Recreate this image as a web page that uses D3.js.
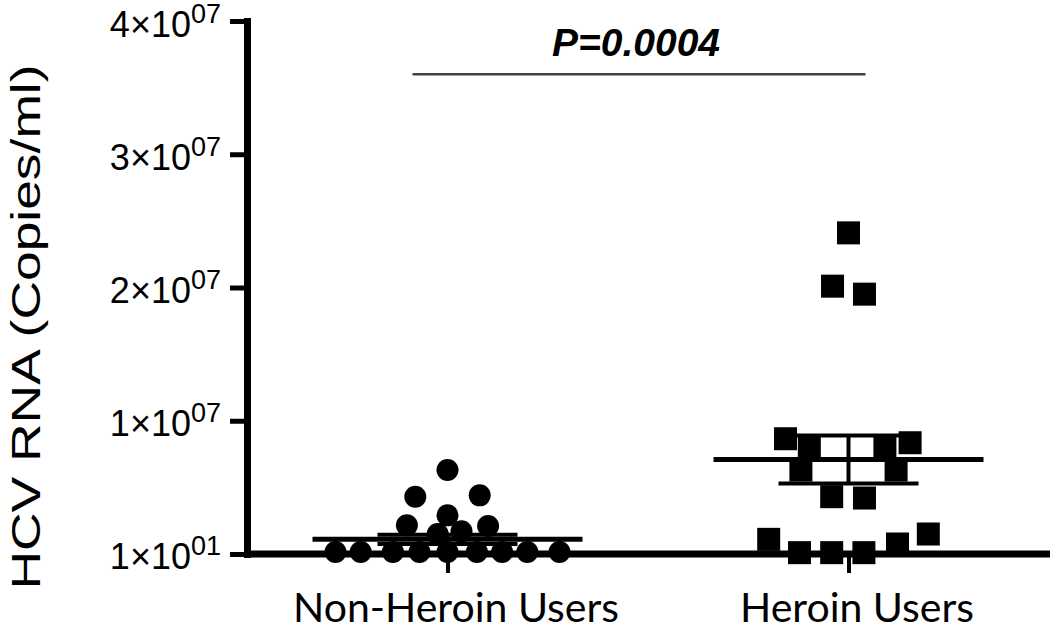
<!DOCTYPE html>
<html>
<head>
<meta charset="utf-8">
<script src="https://cdn.jsdelivr.net/npm/d3@7"></script>
<style>
    body { margin: 0; background: #fff; }
    svg { display: block; }
</style>
</head>
<body>
<div id="plot"></div>
<script>
// data
var groups = ["Non-Heroin Users", "Heroin Users"];

// HCV RNA copies/ml, one entry per subject
var nonHeroinValues = [6.3e6, 4.3e6, 4.4e6, 2.9e6, 2.15e6, 2.1e6, 1.7e6, 1.5e6,
    1.5e5, 1.5e5, 1.5e5, 1.5e5, 1.5e5, 1.5e5, 1.5e5, 1.5e5, 1.5e5];
// scatter lane of each point inside its column (prism style)
var nonHeroinSlots = [0, -1.15, 1.15, 0, -1.45, 1.45, 0.5, -0.35,
    -4, -3.1, -1.95, -1, 0, 1.05, 1.95, 2.85, 4];

var heroinValues = [2.41e7, 2.01e7, 1.95e7, 8.65e6, 8.35e6, 8.05e6, 8.05e6, 6.3e6, 6.3e6,
    4.3e6, 4.2e6, 1.1e6, 1.0e5, 1.0e5, 1.0e5, 7.5e5, 1.5e6];
var heroinSlots = [0, -0.57, 0.57, -2.25, 2.2, -1.4, 1.3, -1.7, 1.7,
    -0.6, 0.57, -2.85, -1.75, -0.6, 0.55, 1.75, 2.85];

// mean +/- SEM as drawn
var groupMeans = [1.1e6, 7.1e6];
var groupSems = [0.35e6, 1.8e6];

var yTicks = [1e1, 1e7, 2e7, 3e7, 4e7];
var pLabel = "P=0.0004";

/* workspace */
var svgWidth = 1050;
var svgHeight = 633;

var margin = { top: 21, right: 1, bottom: 79, left: 247 };
var width = svgWidth - margin.left - margin.right;
var height = svgHeight - margin.top - margin.bottom;

var svg = d3.select("#plot")
    .append("svg")
    .attr("width", svgWidth)
    .attr("height", svgHeight);

var chartGroup = svg.append("g")
    .attr("transform", `translate(${margin.left}, ${margin.top})`);

/* scales */
var xScale = d3.scalePoint()
    .domain(groups)
    .range([0, width])
    .padding(0.5);

var yScale = d3.scaleLinear()
    .domain([0, 4e7])
    .range([height, 0]);

var slotScale = d3.scaleLinear()
    .domain([-1, 1])
    .range([-28, 28]);

/* points */
var nonHeroin = nonHeroinValues.map((v, i) => ({ v: v, s: nonHeroinSlots[i] }));
var heroin = heroinValues.map((v, i) => ({ v: v, s: heroinSlots[i] }));

chartGroup.selectAll("circle.pt")
    .data(nonHeroin)
    .enter()
    .append("circle")
    .attr("class", "pt")
    .attr("cx", d => xScale(groups[0]) + slotScale(d.s))
    .attr("cy", d => yScale(d.v))
    .attr("r", 11)
    .attr("fill", "#000");

var sq = 23;
chartGroup.selectAll("rect.pt")
    .data(heroin)
    .enter()
    .append("rect")
    .attr("class", "pt")
    .attr("x", d => xScale(groups[1]) + slotScale(d.s) - sq / 2)
    .attr("y", d => yScale(d.v) - sq / 2)
    .attr("width", sq)
    .attr("height", sq)
    .attr("fill", "#000");

/* mean and SEM bars */
var stats = groups.map((g, i) => ({ g: g, m: groupMeans[i], e: groupSems[i] }));

chartGroup.selectAll("line.mean")
    .data(stats)
    .enter()
    .append("line")
    .attr("class", "mean")
    .attr("x1", d => xScale(d.g) - 135)
    .attr("x2", d => xScale(d.g) + 135)
    .attr("y1", d => yScale(d.m))
    .attr("y2", d => yScale(d.m))
    .attr("stroke", "#000")
    .attr("stroke-width", 5);

chartGroup.selectAll("line.errv")
    .data(stats)
    .enter()
    .append("line")
    .attr("x1", d => xScale(d.g))
    .attr("x2", d => xScale(d.g))
    .attr("y1", d => yScale(d.m - d.e))
    .attr("y2", d => yScale(d.m + d.e))
    .attr("stroke", "#000")
    .attr("stroke-width", 4);

[1, -1].forEach(function (sign) {
    chartGroup.selectAll(null)
        .data(stats)
        .enter()
        .append("line")
        .attr("x1", d => xScale(d.g) - 70)
        .attr("x2", d => xScale(d.g) + 70)
        .attr("y1", d => yScale(d.m + sign * d.e))
        .attr("y2", d => yScale(d.m + sign * d.e))
        .attr("stroke", "#000")
        .attr("stroke-width", 4);
});

/* axes */
var yAxis = d3.axisLeft(yScale)
    .tickValues(yTicks)
    .tickSize(17)
    .tickSizeOuter(0)
    .tickFormat("");

var yAxisG = chartGroup.append("g").call(yAxis);
yAxisG.select(".domain")
    .attr("stroke-width", 7)
    .attr("stroke-linecap", "square");
yAxisG.selectAll(".tick line").attr("stroke-width", 5);

// labels like 4x10^07
yAxisG.selectAll(".tick").each(function (d) {
    var exp = Math.floor(Math.log10(d));
    var mant = Math.round(d / Math.pow(10, exp));
    var t = d3.select(this).append("text")
        .attr("x", -26)
        .attr("y", 15)
        .attr("text-anchor", "end")
        .attr("fill", "#000")
        .style("font-family", "'Liberation Sans', Arial, sans-serif")
        .style("font-size", "36px");
    t.append("tspan").text(mant + "\u00d710");
    t.append("tspan")
        .attr("dy", -14)
        .style("font-size", "27px")
        .text(String(exp).padStart(2, "0"));
});

var xAxis = d3.axisBottom(xScale)
    .tickSize(19)
    .tickSizeOuter(0)
    .tickPadding(20);

var xAxisG = chartGroup.append("g")
    .attr("transform", `translate(0, ${height})`)
    .call(xAxis);
xAxisG.select(".domain")
    .attr("stroke-width", 7)
    .attr("d", `M-3,0H${width + 3}`);
xAxisG.selectAll(".tick line").attr("stroke-width", 4);
xAxisG.selectAll(".tick text")
    .attr("fill", "#000")
    .attr("dx", 8)
    .attr("dy", "0.7em")
    .style("font-family", "Lato, 'Open Sans', sans-serif")
    .style("font-size", "41px");

/* axis title */
svg.append("text")
    .attr("transform", "translate(40, 327) rotate(-90)")
    .attr("text-anchor", "middle")
    .attr("textLength", 525)
    .attr("lengthAdjust", "spacingAndGlyphs")
    .style("font-family", "'Liberation Sans', Arial, sans-serif")
    .style("font-size", "40px")
    .text("HCV RNA (Copies/ml)");

/* significance bar */
var x0 = xScale(groups[0]) - 35;
var x1 = xScale(groups[1]) + 17;
chartGroup.append("line")
    .attr("x1", x0)
    .attr("x2", x1)
    .attr("y1", yScale(3.6e7))
    .attr("y2", yScale(3.6e7))
    .attr("stroke", "#444")
    .attr("stroke-width", 2.5);

chartGroup.append("text")
    .attr("x", (x0 + x1) / 2 - 3)
    .attr("y", yScale(3.6e7) - 18)
    .attr("text-anchor", "middle")
    .style("font-family", "'Liberation Sans', Arial, sans-serif")
    .style("font-size", "39px")
    .style("font-weight", "bold")
    .style("font-style", "italic")
    .text(pLabel);
</script>
</body>
</html>
